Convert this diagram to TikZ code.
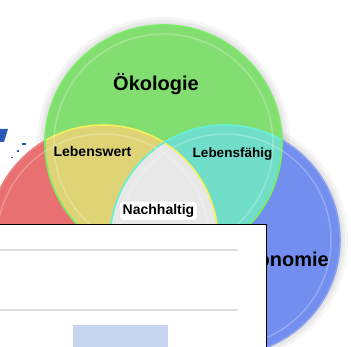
\documentclass[tikz,border=0pt]{standalone}
\usepackage{fontspec}
\setmainfont{Liberation Sans}
\definecolor{cgreen}{RGB}{130,222,112}
\definecolor{cgreenrim}{RGB}{120,236,100}
\definecolor{cred}{RGB}{232,112,112}
\definecolor{cblue}{RGB}{114,142,238}
\definecolor{cyellow}{RGB}{222,212,118}
\definecolor{cyellowrim}{RGB}{245,240,90}
\definecolor{ccyan}{RGB}{112,222,200}
\definecolor{ccyanrim}{RGB}{100,240,215}
\definecolor{cwhite}{RGB}{232,232,232}
\definecolor{cpurple}{RGB}{170,124,200}
\definecolor{lineg}{RGB}{221,221,221}
\definecolor{pale}{RGB}{198,214,238}
\definecolor{strayblue}{RGB}{40,90,180}
\tikzset{
  lbl/.style={font=\bfseries, text=black, inner sep=1pt},
  rim/.style={line width=1.6pt},
  hl/.style={draw=white, draw opacity=0.25, line width=1.5pt},
  halo/.style={draw=gray, draw opacity=0.08}
}
\begin{document}
\begin{tikzpicture}[x=1pt,y=-1pt]
\useasboundingbox (0,0) rectangle (351,347);
\fill[white] (0,0) rectangle (351,347);
\coordinate (G) at (163.5,143.5);
\coordinate (R) at (103,240);
\coordinate (B) at (225,240);
\def\rg{118.5}
\def\rr{115}
\def\rb{115}
% halo
\foreach \w in {16,10,5}{
  \draw[halo, line width=\w pt] (G) circle (\rg);
  \draw[halo, line width=\w pt] (B) circle (\rb);
}
% base circles
\fill[cred] (R) circle (\rr);
\fill[cblue] (B) circle (\rb);
\begin{scope}
  \clip (R) circle (\rr);
  \fill[cpurple] (B) circle (\rb);
\end{scope}
\draw[rim, cred!85!white] (R) circle (\rr);
\draw[rim, cblue!85!white] (B) circle (\rb);
\fill[cgreen] (G) circle (\rg);
% pairwise intersections with green
\begin{scope}
  \clip (R) circle (\rr);
  \fill[cyellow] (G) circle (\rg);
\end{scope}
\begin{scope}
  \clip (B) circle (\rb);
  \fill[ccyan] (G) circle (\rg);
\end{scope}
\begin{scope}
  \clip (R) circle (\rr);
  \clip (B) circle (\rb);
  \fill[cwhite] (G) circle (\rg);
\end{scope}
% rims inside green
\begin{scope}
  \clip (G) circle (\rg);
  \draw[rim, cyellowrim] (R) circle (\rr);
  \draw[rim, ccyanrim] (B) circle (\rb);
\end{scope}
\draw[rim, cgreenrim] (G) circle (\rg);
% inner highlights
\draw[hl] (G) circle (\rg-9);
\draw[hl] (R) circle (\rr-9);
\draw[hl] (B) circle (\rb-9);
% stray marks top left
\fill[strayblue] (0,129) -- (8,129) -- (4,142) -- (0,142) -- cycle;
\fill[strayblue] (22,143.5) rectangle (25.5,145.5);
\fill[strayblue] (17,150.5) rectangle (18.5,152.5);
\fill[strayblue] (11,157) rectangle (12.5,158.5);
% labels
\node[lbl, font=\bfseries\fontsize{20}{22}\selectfont, anchor=base] (oek) at (156,91) {Ökologie};
\node[lbl, font=\bfseries\fontsize{14}{16}\selectfont, anchor=base] (lw) at (92.5,157) {Lebenswert};
\node[lbl, font=\bfseries\fontsize{13.5}{16}\selectfont, anchor=base] (lf) at (232.5,157.5) {Lebensfähig};
\node[lbl, font=\bfseries\fontsize{14}{16}\selectfont, anchor=base, fill=white, rounded corners=3pt, draw=gray!30, inner sep=3pt] (na) at (158.5,214.3) {Nachhaltig};
\node[lbl, font=\bfseries\fontsize{20}{22}\selectfont, anchor=base east] (ekon) at (330,266.5) {Ökonomie};
% overlay box
\node[draw=black, fill=white, line width=1.4pt, inner sep=0pt, anchor=north west, minimum width=272pt, minimum height=130pt] (box) at (-6,224) {};
\coordinate (l1a) at (-6,250); \coordinate (l1b) at (238,250);
\coordinate (l2a) at (-6,310); \coordinate (l2b) at (238,310);
\draw[lineg, line width=2pt] (l1a) -- (l1b);
\draw[lineg, line width=2pt] (l2a) -- (l2b);
\fill[pale] (73,325) rectangle (168,352);
\end{tikzpicture}
\end{document}
